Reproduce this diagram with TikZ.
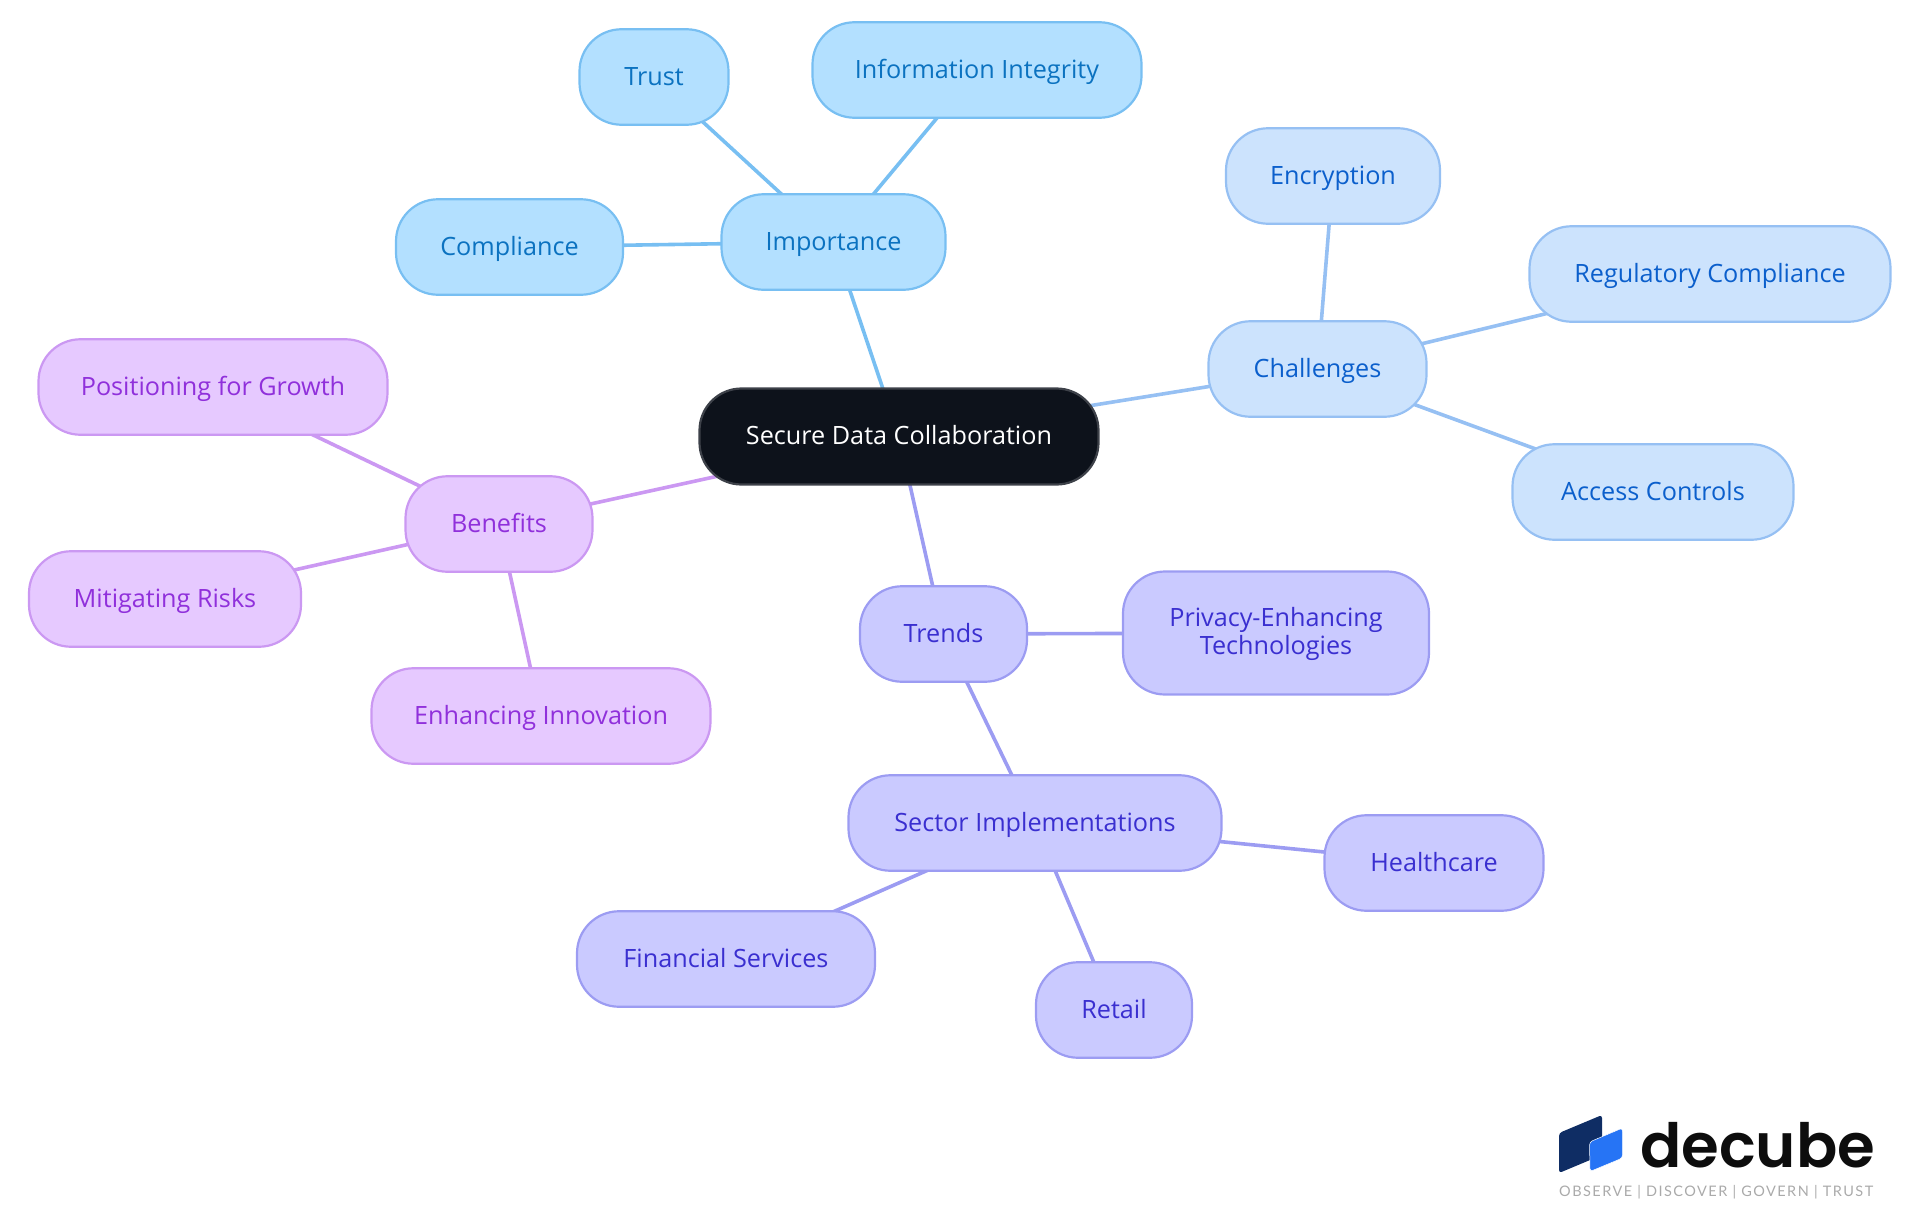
\documentclass[tikz,border=0pt]{standalone}
\usepackage{fontspec}
\setmainfont{Open Sans}
\newfontfamily\logofont{Poppins SemiBold}
\newfontfamily\tagfont[LetterSpace=10]{Lato}
\usetikzlibrary{backgrounds}
\definecolor{rootfill}{HTML}{0D121B}
\definecolor{impfill}{HTML}{B3E0FF}
\definecolor{impline}{HTML}{78BFF2}
\definecolor{imptext}{HTML}{0B72C0}
\definecolor{chalfill}{HTML}{CCE3FD}
\definecolor{challine}{HTML}{96C0F3}
\definecolor{chaltext}{HTML}{0B5FCC}
\definecolor{trendfill}{HTML}{CACAFF}
\definecolor{trendline}{HTML}{9C9CF2}
\definecolor{trendtext}{HTML}{3A2FD0}
\definecolor{benfill}{HTML}{E6C9FF}
\definecolor{benline}{HTML}{CB98F2}
\definecolor{bentext}{HTML}{9030DB}
\tikzset{
        treenode/.style={align=center,inner sep=0pt,rounded corners=42pt,line width=2.2pt,minimum height=95.5pt,text height=22pt,text depth=4.4pt,font=\fontsize{25.2}{28}\selectfont},
        % Root node
        node_root/.style={treenode, fill=rootfill, draw=rootfill!80!white, text=white, text height=20pt},
        % Importance nodes
        node_imp/.style={treenode, fill=impfill, draw=impline, text=imptext},
        % Challenges nodes
        node_chal/.style={treenode, fill=chalfill, draw=challine, text=chaltext},
        % Trends nodes
        node_trend/.style={treenode, fill=trendfill, draw=trendline, text=trendtext},
        % Benefits nodes
        node_ben/.style={treenode, fill=benfill, draw=benline, text=bentext},
        % Connectors
        edge_line/.style={line width=3.6pt}
}
\begin{document}
\begin{tikzpicture}[x=1pt,y=-1pt]
    \useasboundingbox (0,0) rectangle (1920,1215);
    \node[node_root, minimum width=399pt, minimum height=96pt] (root) at (899,436.5) {Secure Data Collaboration};
    % Importance
    \node[node_imp, minimum width=224pt] (importance) at (833.5,242) {Importance};
    \node[node_imp, minimum width=149pt] (trust) at (654,77) {Trust};
    \node[node_imp, minimum width=329pt] (integrity) at (977,70) {Information Integrity};
    \node[node_imp, minimum width=227pt] (compliance) at (509.5,247) {Compliance};
    % Challenges
    \node[node_chal, minimum width=218pt] (challenges) at (1317.5,369) {Challenges};
    \node[node_chal, minimum width=214pt] (encryption) at (1333,176) {Encryption};
    \node[node_chal, minimum width=361pt] (regulatory) at (1710,274) {Regulatory Compliance};
    \node[node_chal, minimum width=281pt] (access) at (1653,492) {Access Controls};
    % Benefits
    \node[node_ben, minimum width=187pt] (benefits) at (499,524) {Benefits};
    \node[node_ben, minimum width=349pt] (growth) at (213,387) {Positioning for Growth};
    \node[node_ben, minimum width=272pt] (risks) at (165,599) {Mitigating Risks};
    \node[node_ben, minimum width=339pt] (innovation) at (541,716) {Enhancing Innovation};
    % Trends
    \node[node_trend, minimum width=167pt] (trends) at (943.5,634) {Trends};
    \node[node_trend, minimum width=306pt, minimum height=123pt, text height=48pt, text depth=6pt] (privacy) at (1276,633) {Privacy-Enhancing\\Technologies};
    \node[node_trend, minimum width=373pt] (sector) at (1035,823) {Sector Implementations};
    \node[node_trend, minimum width=219pt] (healthcare) at (1434,863) {Healthcare};
    \node[node_trend, minimum width=156pt] (retail) at (1114,1010) {Retail};
    \node[node_trend, minimum width=298pt] (financial) at (726,959) {Financial Services};
    % Connectors go behind the nodes
    \begin{scope}[on background layer]
        \draw[edge_line, impline] (root.center) -- (importance.center);
        \foreach \leaf in {trust, integrity, compliance}
            \draw[edge_line, impline] (importance.center) -- (\leaf.center);
        \draw[edge_line, challine] (root.center) -- (challenges.center);
        \foreach \leaf in {encryption, regulatory, access}
            \draw[edge_line, challine] (challenges.center) -- (\leaf.center);
        \draw[edge_line, benline] (root.center) -- (benefits.center);
        \foreach \leaf in {growth, risks, innovation}
            \draw[edge_line, benline] (benefits.center) -- (\leaf.center);
        \draw[edge_line, trendline] (root.center) -- (trends.center);
        \foreach \leaf in {privacy, sector}
            \draw[edge_line, trendline] (trends.center) -- (\leaf.center);
        \foreach \leaf in {healthcare, retail, financial}
            \draw[edge_line, trendline] (sector.center) -- (\leaf.center);
    \end{scope}
    % Logo
    \fill[fill={rgb,255:red,15;green,45;blue,100}, rounded corners=3pt] (1559,1133) -- (1602,1115) -- (1602,1155) -- (1559,1173) -- cycle;
    \fill[fill={rgb,255:red,38;green,116;blue,245}, draw=white, line width=0.5pt, rounded corners=3pt] (1589.5,1142) -- (1622.5,1128) -- (1622.5,1158) -- (1590,1171.5) -- cycle;
    \node[inner sep=0pt, anchor=base west, text={rgb,255:red,13;green,13;blue,13}, font=\logofont\fontsize{61}{61}\selectfont] (logo) at (1640,1167) {decube};
    \node[inner sep=0pt, anchor=base west, text={rgb,255:red,170;green,170;blue,170}, font=\tagfont\fontsize{14.5}{16}\selectfont] (tagline) at (1559,1196.5) {OBSERVE | DISCOVER | GOVERN | TRUST};
\end{tikzpicture}
\end{document}
